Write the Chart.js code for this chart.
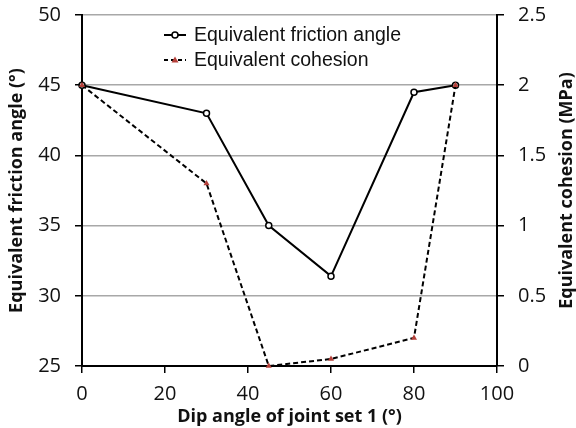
<!DOCTYPE html>
<html>
<head>
<meta charset="utf-8">
<script src="https://cdn.jsdelivr.net/npm/chart.js@4/dist/chart.umd.min.js"></script>
<style>
html,body{margin:0;padding:0;background:#fff;}
#wrap{width:576px;height:428px;position:relative;}
</style>
</head>
<body>
<div id="wrap"><canvas id="c" width="576" height="428"></canvas></div>
<script>
const dipAngles = [0, 30, 45, 60, 80, 90];
const frictionAngle = [45, 43, 35, 31.4, 44.5, 45];
const cohesion = [2, 1.3, 0, 0.05, 0.2, 2];
const seriesNames = ['Equivalent friction angle', 'Equivalent cohesion'];
const xTitle = 'Dip angle of joint set 1 (°)';
const yLeftTitle = 'Equivalent friction angle (°)';
const yRightTitle = 'Equivalent cohesion (MPa)';

const tickFont = {family: "'Open Sans', 'DejaVu Sans', sans-serif", size: 20};
const titleFont = {family: "'Open Sans', 'DejaVu Sans', sans-serif", size: 18, weight: 'bold'};
const gridGray = '#a8a8a8';
const markerRed = '#b5403a';

const legendPlugin = {
  id: 'inlineLegend',
  afterDraw(chart) {
    const ctx = chart.ctx;
    ctx.save();
    const rows = [
      {y: 35, dash: [], marker: 'circle'},
      {y: 60, dash: [4, 3], marker: 'tri'}
    ];
    rows.forEach((r, i) => {
      ctx.strokeStyle = '#000';
      ctx.lineWidth = 2;
      ctx.setLineDash(r.dash);
      ctx.beginPath();
      ctx.moveTo(164, r.y);
      ctx.lineTo(186, r.y);
      ctx.stroke();
      ctx.setLineDash([]);
      if (r.marker === 'circle') {
        ctx.fillStyle = '#fff';
        ctx.lineWidth = 1.5;
        ctx.beginPath();
        ctx.arc(175, r.y, 3, 0, Math.PI * 2);
        ctx.fill();
        ctx.stroke();
      } else {
        ctx.fillStyle = markerRed;
        ctx.beginPath();
        ctx.moveTo(175, r.y - 3.5);
        ctx.lineTo(178.5, r.y + 2.5);
        ctx.lineTo(171.5, r.y + 2.5);
        ctx.closePath();
        ctx.fill();
      }
      ctx.fillStyle = '#111';
      ctx.font = "19.5px 'Liberation Sans', Arial, sans-serif";
      ctx.textAlign = 'left';
      ctx.textBaseline = 'middle';
      ctx.fillText(seriesNames[i], 194, r.y + 1);
    });
    // right axis title, reading bottom-to-top
    const ca = chart.chartArea;
    ctx.translate(567, (ca.top + ca.bottom) / 2);
    ctx.rotate(-Math.PI / 2);
    ctx.font = "bold 18px 'Open Sans', 'DejaVu Sans', sans-serif";
    ctx.fillStyle = '#111';
    ctx.textAlign = 'center';
    ctx.textBaseline = 'middle';
    ctx.fillText(yRightTitle, 0, 0);
    ctx.restore();
  }
};

function noPad(s) {
  s.paddingTop = 0; s.paddingBottom = 0; s.paddingLeft = 0; s.paddingRight = 0;
}

new Chart(document.getElementById('c'), {
  type: 'line',
  data: {
    datasets: [
      {
        label: seriesNames[0],
        data: dipAngles.map((x, i) => ({x: x, y: frictionAngle[i]})),
        yAxisID: 'y',
        borderColor: '#000',
        borderWidth: 2,
        pointStyle: 'circle',
        pointRadius: 3,
        pointBorderWidth: 1.5,
        pointBackgroundColor: '#fff',
        pointBorderColor: '#000',
        tension: 0,
        clip: false,
        order: 2
      },
      {
        label: seriesNames[1],
        data: dipAngles.map((x, i) => ({x: x, y: cohesion[i]})),
        yAxisID: 'y1',
        borderColor: '#000',
        borderWidth: 2,
        borderDash: [5, 3],
        pointStyle: 'triangle',
        pointRadius: 3.5,
        pointBorderWidth: 0,
        pointBackgroundColor: markerRed,
        pointBorderColor: markerRed,
        tension: 0,
        clip: false,
        order: 1
      }
    ]
  },
  options: {
    responsive: false,
    animation: false,
    devicePixelRatio: 1,
    layout: {padding: {top: 15, left: 0, right: 0, bottom: 0}},
    plugins: {legend: {display: false}, tooltip: {enabled: false}},
    scales: {
      x: {
        type: 'linear',
        min: 0, max: 100,
        ticks: {stepSize: 20, font: tickFont, color: '#111', padding: 9},
        grid: {drawOnChartArea: false, tickLength: 7, tickColor: '#000', lineWidth: 1.5},
        border: {color: '#000', width: 2},
        title: {display: true, text: xTitle, font: titleFont, color: '#111', padding: {top: -10, bottom: 0}},
        afterFit(s) { s.height = 62; noPad(s); }
      },
      y: {
        type: 'linear',
        position: 'left',
        min: 25, max: 50,
        ticks: {stepSize: 5, font: tickFont, color: '#111', padding: 14},
        grid: {color: gridGray, lineWidth: 1.5, tickLength: 7, tickColor: '#000'},
        border: {color: '#000', width: 2},
        title: {display: true, text: yLeftTitle, font: titleFont, color: '#111', padding: {top: 6, bottom: 0}},
        afterFit(s) { s.width = 82; noPad(s); }
      },
      y1: {
        type: 'linear',
        position: 'right',
        min: 0, max: 2.5,
        ticks: {stepSize: 0.5, font: tickFont, color: '#111', padding: 14,
          callback: (v) => String(Math.round(v * 10) / 10)},
        grid: {drawOnChartArea: false, tickLength: 7, tickColor: '#000', lineWidth: 1.5},
        border: {color: '#000', width: 2},
        afterFit(s) { s.width = 79; noPad(s); }
      }
    }
  },
  plugins: [legendPlugin]
});
</script>
</body>
</html>
